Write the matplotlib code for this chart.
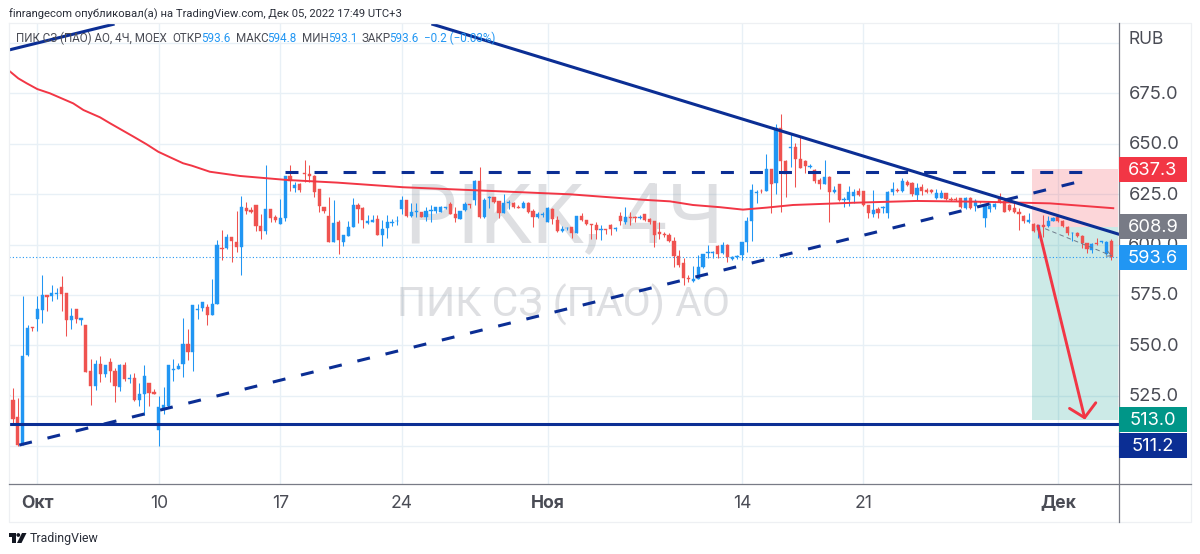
import matplotlib
matplotlib.use('Agg')
import matplotlib.pyplot as plt
from matplotlib.patches import Rectangle, Polygon, Circle
import numpy as np

plt.rcParams['font.family'] = ['Inter', 'DejaVu Sans']
SMALL_FONT = ['Roboto', 'DejaVu Sans']

# ── Candles (4h bars, MOEX) ──────────────────────────────────────────────────
opens = [
    525.2, 522.9, 514.3, 501.4, 545.2, 559.2, 563.2, 567.7, 575.0, 574.6,
    575.5, 578.9, 575.8, 562.4, 568.0, 562.4, 560.1, 537.3, 529.8, 540.7,
    536.0, 541.7, 537.3, 529.3, 540.1, 533.5, 533.8, 522.9, 525.9, 531.1,
    526.8, 507.8, 518.2, 519.9, 537.8, 538.3, 540.9, 550.6, 546.9, 567.7,
    568.5, 569.2, 565.2, 570.5, 598.2, 598.2, 603.6, 601.1, 598.9, 617.9,
    617.3, 619.7, 609.2, 606.9, 617.6, 613.5, 610.0, 613.3, 634.0, 628.0,
    629.9, 635.5, 635.0, 633.8, 627.4, 618.8, 614.2, 601.1, 611.0, 601.4,
    604.4, 608.9, 619.6, 618.1, 610.9, 611.4, 612.5, 604.9, 608.2, 610.9,
    611.5, 617.6, 622.0, 614.3, 616.0, 616.0, 613.8, 616.8, 616.5, 616.3,
    618.0, 620.1, 615.2, 612.7, 617.1, 620.1, 622.1, 631.5, 613.5, 622.9,
    623.4, 621.8, 615.8, 620.5, 620.5, 618.5, 618.0, 620.8, 616.6, 613.8,
    614.7, 611.4, 617.6, 612.2, 606.9, 608.0, 608.5, 605.9, 614.1, 612.3,
    610.2, 609.7, 607.4, 607.5, 609.7, 607.5, 614.1, 611.3, 613.8, 613.8,
    613.1, 615.0, 612.6, 611.7, 606.0, 605.2, 604.5, 601.9, 594.3, 590.7,
    583.5, 582.0, 583.0, 588.7, 595.8, 595.9, 599.4, 595.6, 599.9, 593.0,
    593.6, 595.0, 601.4, 611.6, 625.7, 626.7, 626.5, 637.3, 630.7, 657.9,
    641.6, 648.0, 648.5, 642.2, 641.4, 638.6, 636.9, 632.0, 630.0, 633.6,
    626.2, 630.0, 622.1, 622.1, 624.0, 626.4, 626.7, 619.6, 615.2, 617.5,
    618.0, 615.5, 625.9, 627.0, 626.7, 631.2, 630.4, 624.6, 628.7, 627.0,
    627.0, 622.9, 622.9, 625.4, 622.8, 622.4, 622.9, 618.3, 623.3, 619.1,
    621.1, 613.0, 617.5, 618.5, 623.0, 621.8, 619.6, 618.0, 616.3, 614.3,
    611.4, 610.2, 607.2, 609.5, 609.2, 611.9, 613.8, 611.9, 608.9, 605.6,
    605.9, 604.2, 600.9, 597.3, 600.6, 601.3, 595.3, 601.9,
]
closes = [
    524.9, 513.3, 500.6, 544.9, 558.7, 558.7, 567.8, 575.0, 573.8, 576.1,
    575.8, 575.5, 562.4, 564.4, 562.9, 563.5, 537.0, 529.8, 540.6, 536.0,
    540.1, 537.3, 529.8, 540.1, 533.1, 533.8, 522.9, 525.9, 535.0, 526.2,
    525.9, 519.4, 520.2, 540.1, 538.1, 539.8, 550.8, 546.9, 570.0, 568.2,
    571.5, 565.2, 570.5, 599.9, 597.9, 603.6, 601.6, 598.7, 618.6, 616.4,
    615.9, 609.2, 606.9, 617.8, 613.3, 612.3, 613.3, 634.0, 631.6, 629.5,
    626.9, 635.0, 633.8, 626.2, 619.3, 616.5, 601.1, 610.5, 602.1, 604.7,
    608.9, 619.6, 617.8, 612.2, 611.9, 612.4, 604.9, 607.7, 611.0, 611.2,
    611.9, 622.1, 614.3, 616.3, 616.6, 613.8, 616.5, 617.1, 618.5, 618.8,
    618.5, 615.2, 613.2, 616.5, 620.1, 619.6, 631.7, 613.8, 622.1, 623.4,
    621.0, 615.5, 620.8, 621.0, 618.5, 618.1, 620.8, 616.3, 613.8, 615.2,
    615.0, 618.0, 612.5, 606.7, 607.7, 608.2, 605.9, 614.3, 612.1, 610.0,
    609.7, 607.2, 607.7, 607.2, 607.5, 608.0, 611.7, 613.5, 613.1, 613.1,
    613.8, 612.1, 611.0, 604.7, 605.0, 604.5, 601.9, 594.3, 589.8, 583.2,
    583.0, 583.0, 588.7, 595.1, 596.1, 596.3, 595.3, 599.9, 594.0, 594.0,
    594.3, 601.4, 611.6, 627.0, 626.2, 626.4, 637.3, 630.0, 657.9, 641.6,
    635.0, 648.5, 642.2, 638.1, 638.9, 639.1, 631.7, 630.0, 633.6, 626.2,
    626.9, 622.1, 622.4, 625.9, 625.9, 624.6, 619.6, 615.5, 617.1, 615.7,
    618.8, 626.2, 627.4, 626.5, 631.5, 629.5, 625.1, 628.2, 626.7, 625.9,
    626.1, 625.7, 625.7, 622.4, 622.1, 622.1, 618.5, 623.3, 618.3, 621.6,
    620.9, 619.3, 619.3, 620.0, 621.3, 616.0, 617.1, 616.0, 615.2, 611.9,
    612.2, 606.9, 609.5, 608.5, 611.7, 613.3, 611.9, 609.2, 605.6, 605.9,
    604.2, 600.9, 597.6, 600.1, 600.3, 601.6, 601.4, 593.6,
]
highs = [
    526.0, 529.0, 524.0, 574.6, 560.0, 559.2, 574.6, 584.9, 575.0, 579.7,
    578.4, 584.2, 575.8, 568.7, 568.0, 563.5, 560.1, 543.0, 542.6, 544.5,
    540.1, 543.7, 538.6, 540.7, 541.7, 535.9, 536.1, 531.2, 540.4, 531.1,
    528.3, 525.0, 529.5, 540.1, 543.0, 541.0, 563.7, 557.9, 570.0, 570.5,
    571.5, 570.3, 582.9, 602.0, 607.0, 605.0, 603.6, 616.4, 624.0, 621.1,
    618.6, 619.7, 615.1, 639.6, 617.6, 614.6, 622.4, 634.0, 639.6, 630.9,
    630.4, 642.0, 639.6, 634.5, 627.4, 618.8, 623.6, 622.1, 612.0, 604.7,
    611.7, 623.3, 620.8, 618.8, 614.7, 614.7, 614.7, 612.2, 614.7, 612.7,
    614.2, 624.1, 622.1, 620.4, 620.4, 616.0, 618.8, 619.6, 618.8, 619.1,
    618.5, 621.3, 618.8, 616.5, 621.3, 620.1, 632.0, 638.3, 622.9, 624.1,
    623.4, 621.8, 625.1, 622.1, 621.0, 619.6, 621.8, 621.3, 617.6, 616.3,
    616.3, 618.5, 618.0, 614.2, 609.2, 608.5, 608.5, 614.3, 615.5, 612.3,
    610.2, 611.0, 609.7, 607.5, 610.0, 608.5, 615.9, 618.4, 616.3, 614.1,
    614.6, 615.0, 613.0, 611.7, 611.0, 606.4, 605.9, 603.6, 597.3, 593.1,
    584.9, 589.5, 594.8, 595.3, 599.7, 596.8, 599.7, 601.4, 600.2, 594.5,
    594.8, 601.4, 613.8, 630.0, 627.0, 627.4, 644.7, 637.3, 659.6, 664.6,
    641.9, 654.8, 650.5, 653.1, 641.9, 639.8, 637.3, 632.8, 641.9, 634.0,
    629.0, 630.0, 623.4, 629.0, 627.4, 627.8, 626.7, 619.6, 627.0, 618.8,
    619.1, 626.7, 630.9, 628.0, 632.9, 632.0, 631.2, 630.4, 629.9, 627.9,
    627.4, 627.4, 627.0, 625.4, 623.8, 623.4, 623.3, 623.8, 623.8, 622.4,
    621.6, 619.6, 620.4, 620.8, 625.7, 622.4, 620.0, 621.3, 618.0, 614.7,
    615.5, 610.5, 609.5, 614.7, 614.2, 613.8, 614.2, 612.2, 609.2, 606.4,
    606.4, 604.7, 600.9, 600.6, 603.4, 601.9, 601.9, 602.9,
]
lows = [
    524.5, 511.3, 500.2, 500.6, 544.9, 557.1, 557.1, 561.2, 567.0, 572.1,
    572.8, 567.0, 554.6, 558.3, 560.9, 560.2, 537.0, 520.2, 527.8, 532.0,
    534.5, 532.0, 522.0, 527.3, 532.3, 531.5, 522.6, 520.1, 515.4, 520.1,
    525.9, 500.2, 516.0, 518.7, 532.3, 538.1, 534.5, 542.7, 537.3, 563.0,
    567.2, 560.2, 565.2, 570.5, 592.3, 597.8, 591.3, 596.4, 585.0, 615.1,
    615.4, 606.9, 602.6, 605.2, 611.0, 611.0, 610.0, 611.7, 626.7, 626.2,
    626.2, 630.9, 630.9, 623.4, 616.3, 615.5, 601.1, 601.1, 595.3, 599.3,
    604.4, 608.5, 610.9, 608.0, 610.2, 611.4, 604.9, 599.5, 603.1, 609.4,
    609.7, 615.2, 613.5, 613.8, 613.8, 613.5, 611.9, 611.4, 615.5, 616.3,
    617.6, 615.2, 611.4, 612.7, 616.8, 618.0, 619.6, 613.0, 613.0, 618.0,
    620.4, 613.0, 615.5, 617.5, 618.0, 618.1, 618.0, 615.5, 608.9, 613.0,
    613.8, 611.4, 610.2, 606.1, 606.1, 607.2, 603.1, 605.9, 611.8, 609.7,
    602.6, 602.7, 602.2, 605.2, 604.7, 606.9, 609.7, 610.0, 609.7, 611.3,
    612.8, 611.8, 610.2, 598.9, 602.6, 603.9, 601.4, 589.0, 589.0, 579.9,
    581.6, 581.6, 582.7, 588.3, 593.1, 593.5, 593.1, 595.3, 591.5, 592.3,
    592.6, 592.3, 596.4, 601.7, 620.4, 625.7, 626.5, 615.5, 625.0, 616.3,
    623.4, 638.3, 628.3, 637.8, 635.3, 637.8, 630.7, 627.5, 630.0, 611.3,
    625.4, 621.7, 618.8, 619.1, 620.4, 624.0, 619.1, 613.3, 613.8, 613.3,
    615.5, 613.0, 624.6, 625.9, 626.2, 629.2, 624.1, 622.1, 624.6, 625.4,
    625.7, 622.6, 622.9, 622.1, 621.8, 621.8, 618.0, 617.5, 617.5, 616.6,
    620.5, 608.6, 616.3, 617.5, 620.8, 616.0, 616.8, 615.5, 607.2, 610.5,
    610.9, 606.4, 603.1, 603.6, 608.9, 611.7, 611.4, 608.9, 604.7, 601.9,
    603.9, 598.1, 596.0, 596.0, 600.0, 600.9, 595.0, 592.4,
]

# moving average, read at sparse bars
ma_idx = [0.2, 2.1, 3.8, 6, 8.6, 11, 13.4, 15.5, 18.9, 21, 25.8, 28.5, 30.9, 33.3,
          36, 37.8, 41.5, 47.7, 57.4, 67.7, 81.3, 95.1, 115.6, 130.6, 136.2, 140.9,
          146.5, 151.2, 156.1, 161.5, 173.8, 186.9, 200.6, 214.4, 227.4]
ma_val = [686.2, 682.4, 680.0, 677.1, 675.0, 672.5, 670.0, 666.7, 663.1, 660.1, 653.5,
          649.7, 646.0, 643.3, 640.3, 639.1, 636.1, 634.0, 632.0, 630.7, 628.4, 627.0,
          624.9, 622.2, 621.4, 619.6, 618.5, 617.3, 618.3, 619.6, 620.7, 621.6, 621.2,
          620.4, 618.0]

# Drawings
res_left_idx, res_left_val = [0.2, 21.6], [696.5, 709.2]
res_main_idx, res_main_val = [87.4, 228.4], [709.2, 605.2]
sup_idx, sup_val = [2.3, 220.9], [500.5, 631.5]
top_idx, top_val = [57.0, 221.6], [636.1, 636.1]
floor_val = 511.2
last_price = 593.6
entry, stop, target = 608.9, 637.3, 513.0
box_start = 210.7
arrow_idx, arrow_val = [211.9, 221.5], [609.2, 514.1]
barb_idx, barb_val = [218.4, 221.5, 223.8], [518.7, 514.1, 521.5]
path_idx, path_val = [212.9, 227.8], [608.3, 593.7]

tick_idx = [6, 31, 56, 81, 111, 151, 176, 216]
tick_lbl = ['Окт', '10', '17', '24', 'Ноя', '14', '21', 'Дек']
tick_bold = ['Окт', 'Ноя', 'Дек']
price_ticks = [500, 525, 550, 575, 600, 625, 650, 675, 700]
price_shown = [525, 550, 575, 600, 625, 650, 675]

BLUE = '#2196F3'
RED = '#EF5350'
NAVY = '#0B2E94'
ARROW = '#F23645'
GRID = '#E8F0F6'
AXIS = '#787B86'
TXT = '#4A4C55'

W, H = 1200, 554
L, R, T, B = 9, 1118.5, 23.5, 484
PX_IDX, IDX0 = 4.86, 8.1   # px per bar, px of bar 0
PX_PRICE = 2.016           # px per rouble, 600 sits at y=244.5

fig = plt.figure(figsize=(W / 100, H / 100), dpi=100, facecolor='white')
ax = fig.add_axes([L / W, 1 - B / H, (R - L) / W, (B - T) / H])
ax.set_xlim((L - IDX0) / PX_IDX, (R - IDX0) / PX_IDX)
ax.set_ylim(600 - (B - 244.5) / PX_PRICE, 600 + (244.5 - T) / PX_PRICE)
for s in ax.spines.values():
    s.set_visible(False)
ax.set_xticks(tick_idx)
ax.set_yticks(price_ticks)
ax.tick_params(left=False, bottom=False, labelleft=False, labelbottom=False)
ax.grid(True, color=GRID, lw=1.0)
ax.set_axisbelow(True)

# watermark
ax.text(0.5002, 0.523, 'PIKK, 4Ч', transform=ax.transAxes, color='#787B86', alpha=0.24,
        fontsize=59.7, family=SMALL_FONT, ha='center', va='baseline', zorder=1)
ax.text(0.5002, 0.3627, 'ПИК СЗ (ПАО) АО', transform=ax.transAxes, color='#787B86', alpha=0.24,
        fontsize=29.4, family=SMALL_FONT, ha='center', va='baseline', zorder=1)

# long position box
xmax = ax.get_xlim()[1]
ax.fill_between([box_start, xmax], entry, stop, color=ARROW, alpha=0.2, lw=0, zorder=1.5)
ax.fill_between([box_start, xmax], target, entry, color='#009688', alpha=0.2, lw=0, zorder=1.5)

# candles
x = np.arange(len(opens))
o, c, hi, lo = map(np.array, (opens, closes, highs, lows))
col = np.where(c >= o, BLUE, RED)
ax.vlines(x, lo, hi, colors=col, lw=0.75, zorder=2)
ax.bar(x, np.abs(c - o), bottom=np.minimum(o, c), width=0.66, color=col,
       edgecolor=col, lw=0.3, zorder=3)

# last price
ax.axhline(last_price, color=BLUE, lw=0.8, ls=(0, (1, 2)), zorder=2)

# moving average
ax.plot(ma_idx, ma_val, color=ARROW, lw=1.4, zorder=4)

# trend lines
ax.plot(res_left_idx, res_left_val, color=NAVY, lw=2.2, zorder=5)
ax.plot(res_main_idx, res_main_val, color=NAVY, lw=2.2, zorder=5)
ax.plot(sup_idx, sup_val, color=NAVY, lw=2.2, ls=(0, (4.25, 5.25)), zorder=5)
ax.plot(top_idx, top_val, color=NAVY, lw=2.2, ls=(0, (4.25, 5.25)), zorder=5)
ax.axhline(floor_val, color=NAVY, lw=2.2, zorder=5)

# grey projected path + hand drawn arrow
ax.annotate('', xy=(path_idx[1], path_val[1]), xytext=(path_idx[0], path_val[0]),
            arrowprops=dict(arrowstyle='->', color='#6E7B8B', lw=0.7, ls=(0, (4, 4))), zorder=5)
ax.plot(arrow_idx, arrow_val, color=ARROW, lw=2.1, solid_capstyle='round', zorder=6)
ax.plot(barb_idx, barb_val, color=ARROW, lw=2.1, solid_capstyle='round',
        solid_joinstyle='round', zorder=6)

# ── page chrome in pixel coordinates ─────────────────────────────────────────
pg = fig.add_axes([0, 0, 1, 1], facecolor='none')
pg.set_xlim(0, W)
pg.set_ylim(H, 0)
pg.axis('off')


def price_y(p):
    return 244.5 + (600 - p) * PX_PRICE


pg.plot([8.5, 1191, 1191, 8.5, 8.5], [23, 23, 522, 522, 23], color='#EEF0F3', lw=0.9)
pg.plot([L, 1191], [B, B], color=AXIS, lw=0.9)
pg.plot([R, R], [23, 522], color=AXIS, lw=0.9)

for p in price_shown:
    pg.text(1154, price_y(p) + 1, f'{p}.0', fontsize=13.2, color=TXT, ha='center', va='center', zorder=1)
pg.text(1146, 39, 'RUB', fontsize=12.5, color=TXT, ha='center', va='center')

for i, lbl in zip(tick_idx, tick_lbl):
    pg.text(IDX0 + i * PX_IDX, 503, lbl, fontsize=12.6, color=TXT, ha='center', va='center',
            fontweight='bold' if lbl in tick_bold else 'normal')


def tag(cy, colour, label):
    pg.add_patch(Rectangle((R, cy - 12.5), 1187 - R, 25, fc=colour, ec='none', zorder=3))
    pg.text(1153, cy + 1, label, color='white', fontsize=13.2, ha='center', va='center', zorder=4)


tag(price_y(stop), ARROW, f'{stop:.1f}')
tag(price_y(entry), '#787B86', f'{entry:.1f}')
tag(price_y(last_price), BLUE, f'{last_price:.1f}')
tag(price_y(target), '#009688', f'{target:.1f}')
tag(price_y(floor_val) + 21.5, NAVY, f'{floor_val:.1f}')

pg.text(9, 14, 'finrangecom опубликовал(а) на TradingView.com, Дек 05, 2022 17:49 UTC+3',
        fontsize=8.13, family=SMALL_FONT, color='#2A2E39', va='center')

legend_bits = [
    (16, 'ПИК СЗ (ПАО) АО, 4Ч, MOEX', TXT),
    (172, 'ОТКР', TXT), (201, '593.6', BLUE),
    (236, 'МАКС', TXT), (267, '594.8', BLUE),
    (302, 'МИН', TXT), (328, '593.1', BLUE),
    (361, 'ЗАКР', TXT), (389, '593.6', BLUE),
    (424, '−0.2 (−0.03%)', BLUE),
]
for lx, s, colour in legend_bits:
    pg.text(lx, 38, s, fontsize=8.35, family=SMALL_FONT, color=colour, va='center', zorder=6)

# TradingView mark
pg.add_patch(Polygon([(9, 533), (16, 533), (16, 543), (12, 543), (12, 537), (9, 537)], fc='#131722', ec='none'))
pg.add_patch(Circle((18.3, 535), 1.9, fc='#131722', ec='none'))
pg.add_patch(Polygon([(22, 533), (26.5, 533), (21.5, 543), (17, 543)], fc='#131722', ec='none'))
pg.text(30, 538.5, 'TradingView', fontsize=8.9, family=SMALL_FONT, color='#2A2E39', va='center')

fig.savefig('out.png', dpi=100)
